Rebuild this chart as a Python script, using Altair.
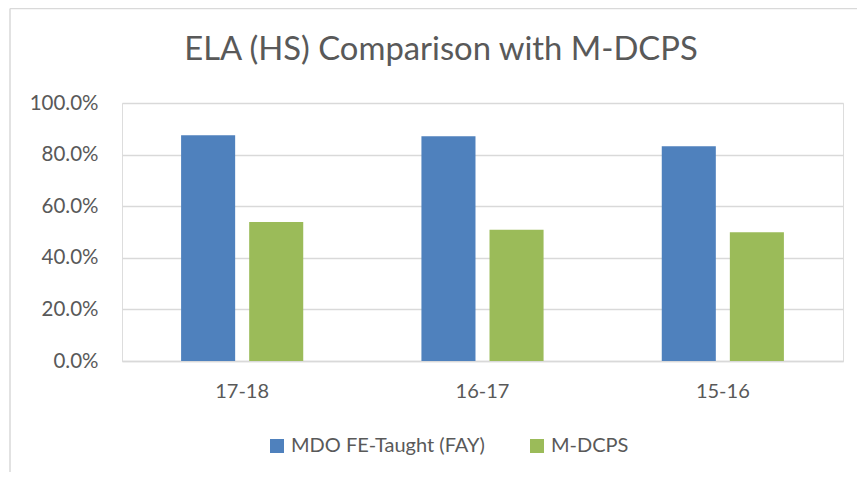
import altair as alt
import pandas as pd

years = ["17-18", "16-17", "15-16"]
series_names = ["MDO FE-Taught (FAY)", "M-DCPS"]
mdo_values = [0.875, 0.871, 0.832]
mdcps_values = [0.539, 0.509, 0.499]
y_ticks = [0.0, 0.2, 0.4, 0.6, 0.8, 1.0]
colors = ["#4F81BD", "#9BBB59"]
title_text = "ELA (HS) Comparison with M-DCPS"

rows = []
for yr, v in zip(years, mdo_values):
    rows.append({"Year": yr, "Series": series_names[0], "Value": v})
for yr, v in zip(years, mdcps_values):
    rows.append({"Year": yr, "Series": series_names[1], "Value": v})
df = pd.DataFrame(rows)

FONT = "Lato"
TXT = "#595959"
GRID = "#D9D9D9"

bars = alt.Chart(df).mark_bar().encode(
    x=alt.X("Year:N", sort=years, title=None,
            scale=alt.Scale(paddingInner=0, paddingOuter=0),
            axis=alt.Axis(labelAngle=0, labelFont=FONT, labelFontSize=20, labelColor=TXT,
                          ticks=False, domainColor=GRID, domainWidth=1.5, labelPadding=20,
                          grid=False)),
    xOffset=alt.XOffset("Series:N", sort=series_names,
                        scale=alt.Scale(paddingInner=0.206, paddingOuter=0.868)),
    y=alt.Y("Value:Q", title=None,
            scale=alt.Scale(domain=[0, 1], nice=False),
            axis=alt.Axis(values=y_ticks, format=".1%", labelFont=FONT, labelFontSize=20.5,
                          labelColor=TXT, ticks=False, domain=False, gridColor=GRID,
                          gridWidth=1.5, labelPadding=24)),
    color=alt.Color("Series:N", sort=series_names,
                    scale=alt.Scale(domain=series_names, range=colors),
                    legend=alt.Legend(title=None, orient="none", direction="horizontal",
                                      legendX=145, legendY=333, symbolType="square",
                                      symbolSize=196, symbolStrokeWidth=0,
                                      labelFont=FONT, labelFontSize=20, labelColor=TXT,
                                      labelLimit=0, columnPadding=42, labelOffset=4)),
)

frame = alt.Data(values=[{"k": 1}])
left_rule = alt.Chart(frame).mark_rule(color=GRID, strokeWidth=1.5).encode(
    x=alt.value(-112), y=alt.value(-94.5), y2=alt.value(372))
top_rule = alt.Chart(frame).mark_rule(color=GRID, strokeWidth=1.5).encode(
    x=alt.value(-112), x2=alt.value(740), y=alt.value(-94.5))
title_mark = alt.Chart(alt.Data(values=[{"t": title_text}])).mark_text(
    font=FONT, fontSize=32.8, color=TXT, align="center", baseline="alphabetic"
).encode(text="t:N", x=alt.value(319), y=alt.value(-43))

chart = alt.layer(bars, left_rule, top_rule, title_mark).properties(
    width=721, height=258,
    autosize=alt.AutoSizeParams(type="none"),
    padding={"left": 114, "top": 95, "right": 14, "bottom": 111},
).configure_view(stroke=None).configure(background="white")

chart.save("out.html", embed_options={"renderer": "svg", "actions": False})
